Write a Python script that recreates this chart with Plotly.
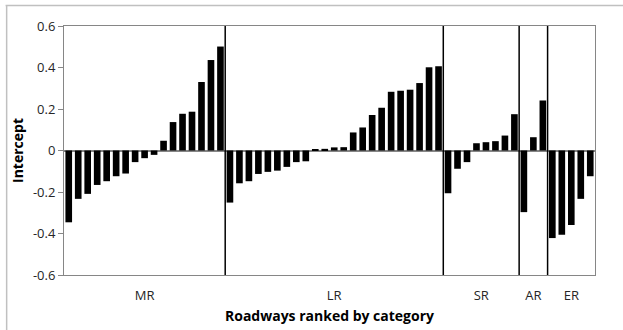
import plotly.graph_objects as go

categories = ["MR", "LR", "SR", "AR", "ER"]

mr_values = [-0.346, -0.233, -0.209, -0.166, -0.148, -0.124, -0.111, -0.056, -0.037, -0.021,
             0.047, 0.137, 0.177, 0.187, 0.330, 0.436, 0.501]
lr_values = [-0.251, -0.158, -0.148, -0.113, -0.103, -0.097, -0.079, -0.056, -0.052,
             0.005, 0.008, 0.015, 0.016, 0.087, 0.111, 0.171, 0.206, 0.283, 0.288, 0.293,
             0.325, 0.401, 0.406]
sr_values = [-0.206, -0.088, -0.056, 0.035, 0.040, 0.045, 0.072, 0.175]
ar_values = [-0.297, 0.064, 0.241]
er_values = [-0.422, -0.406, -0.359, -0.233, -0.124]

y_tick_vals = [-0.6, -0.4, -0.2, 0, 0.2, 0.4, 0.6]
y_tick_text = ["-0.6", "-0.4", "-0.2", "0", "0.2", "0.4", "0.6"]

groups = [mr_values, lr_values, sr_values, ar_values, er_values]
values = [v for g in groups for v in g]
xs = list(range(len(values)))

# group boundaries and centers
bounds = []
centers = []
start = 0
for g in groups:
    centers.append(start + (len(g) - 1) / 2)
    start += len(g)
    bounds.append(start - 0.5)

FONT = "Open Sans"
TXT = "#262626"

fig = go.Figure()
fig.add_trace(go.Bar(x=xs, y=values, marker=dict(color="black", line=dict(width=0)),
                     hoverinfo="skip"))

shapes = []
for b in bounds[:-1]:
    shapes.append(dict(type="line", xref="x", yref="y", x0=b, x1=b, y0=-0.6, y1=0.6,
                       line=dict(color="black", width=1.5)))
# outer chart border (top and left visible)
shapes.append(dict(type="line", xref="paper", yref="paper", x0=-0.11, x1=1.06, y0=1.082, y1=1.082,
                   line=dict(color="#c0c0c0", width=1.5)))
shapes.append(dict(type="line", xref="paper", yref="paper", x0=-0.108, x1=-0.108, y0=-0.25, y1=1.082,
                   line=dict(color="#c0c0c0", width=1.5)))

fig.update_layout(
    width=623, height=330,
    margin=dict(l=64, r=28, t=26, b=55, autoexpand=False),
    paper_bgcolor="white", plot_bgcolor="white",
    showlegend=False,
    bargap=0.3,
    font=dict(family=FONT, size=13, color=TXT),
    shapes=shapes,
    xaxis=dict(
        range=[-0.5, len(values) - 0.5],
        tickmode="array", tickvals=centers, ticktext=categories,
        ticks="", showgrid=False, zeroline=False,
        showline=True, linecolor="#868686", linewidth=1, mirror=True,
        ticklabelstandoff=8, automargin=False,
        title=dict(text="<b>Roadways ranked by category</b>", standoff=8,
                   font=dict(family=FONT, size=14, color="black")),
    ),
    yaxis=dict(
        range=[-0.6, 0.6],
        tickmode="array", tickvals=y_tick_vals, ticktext=y_tick_text,
        ticks="outside", ticklen=5, tickcolor="#868686",
        showgrid=False, automargin=False,
        zeroline=True, zerolinecolor="#868686", zerolinewidth=2,
        showline=True, linecolor="#868686", linewidth=1, mirror=True,
        title=dict(text="<b>Intercept</b>", standoff=6,
                   font=dict(family=FONT, size=14, color="black")),
    ),
)

fig.write_html("out.html", config={"displayModeBar": False},
               post_script="document.body.style.margin='0';")
